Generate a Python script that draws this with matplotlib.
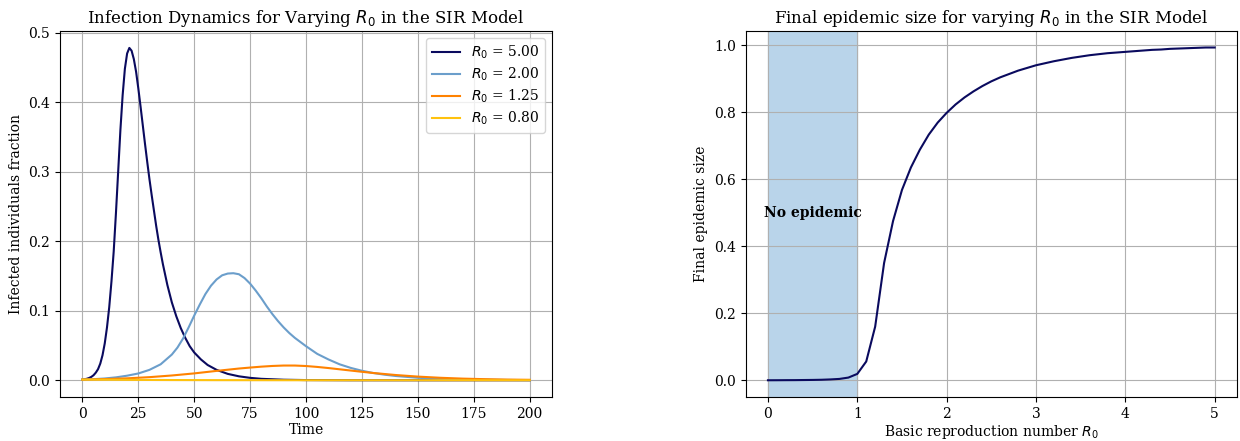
import matplotlib
matplotlib.use("Agg")
import matplotlib.pyplot as plt

plt.rcParams["font.family"] = "DejaVu Serif"

# left panel: infected fraction over time
T5 = [0, 1, 2, 3, 4, 5, 6, 7, 8, 9, 10, 11, 12, 13, 14, 15, 16, 17, 18, 19, 20,
      21, 22, 23, 24, 25, 26, 27, 28, 29, 30, 31, 32, 33, 34, 35, 36, 38, 40,
      42, 44, 46, 48, 50, 53, 56, 60, 65, 70, 75, 80, 90, 100, 120, 150, 200]
I5 = [0.001, 0.0015, 0.0022, 0.0033, 0.0049, 0.0073, 0.011, 0.016, 0.024, 0.036,
      0.053, 0.076, 0.105, 0.142, 0.185, 0.240, 0.300, 0.360, 0.410, 0.448,
      0.470, 0.478, 0.474, 0.462, 0.444, 0.420, 0.394, 0.367, 0.340, 0.314,
      0.289, 0.266, 0.244, 0.222, 0.202, 0.184, 0.167, 0.137, 0.112, 0.092,
      0.075, 0.061, 0.049, 0.040, 0.030, 0.022, 0.015, 0.0092, 0.0057, 0.0035,
      0.0021, 0.0008, 0.0003, 0.00005, 0.0, 0.0]

T2 = [0, 5, 10, 15, 20, 25, 30, 35, 40, 42.5, 45, 47.5, 50, 52.5, 55, 57.5, 60,
      62.5, 65, 67.5, 70, 72.5, 75, 77.5, 80, 82.5, 85, 87.5, 90, 92.5, 95,
      97.5, 100, 105, 110, 115, 120, 125, 130, 135, 140, 150, 160, 175, 200]
I2 = [0.001, 0.0016, 0.0026, 0.0042, 0.0066, 0.0098, 0.015, 0.023, 0.037, 0.047,
      0.060, 0.076, 0.093, 0.109, 0.124, 0.136, 0.145, 0.151, 0.1535, 0.154,
      0.1525, 0.147, 0.139, 0.129, 0.118, 0.106, 0.095, 0.085, 0.076, 0.068,
      0.061, 0.055, 0.049, 0.038, 0.030, 0.023, 0.0178, 0.0137, 0.0105, 0.0081,
      0.0062, 0.0036, 0.0021, 0.0009, 0.0002]

T125 = [0, 10, 20, 30, 40, 50, 60, 70, 75, 80, 85, 90, 95, 100, 105, 110, 115,
        120, 125, 130, 140, 150, 160, 170, 180, 190, 200]
I125 = [0.001, 0.0017, 0.0028, 0.0045, 0.0069, 0.0099, 0.0135, 0.0169, 0.0183,
        0.0196, 0.0206, 0.0212, 0.0212, 0.0205, 0.0192, 0.0176, 0.0158, 0.0140,
        0.0122, 0.0105, 0.0076, 0.0053, 0.0036, 0.0024, 0.0016, 0.0010, 0.0007]

T08 = [0, 10, 20, 40, 60, 100, 150, 200]
I08 = [0.001, 0.0008, 0.0006, 0.00035, 0.0002, 0.00007, 0.00002, 0.0]

CURVES = [
    ("5.00", T5, I5, "#0a0a5e"),
    ("2.00", T2, I2, "#6b9ecb"),
    ("1.25", T125, I125, "#ff8200"),
    ("0.80", T08, I08, "#ffc20e"),
]

# right panel: final epidemic size vs R0
R0_GRID = [0.0, 0.1, 0.2, 0.3, 0.4, 0.5, 0.6, 0.7, 0.8, 0.9, 1.0, 1.1, 1.2, 1.3,
           1.4, 1.5, 1.6, 1.7, 1.8, 1.9, 2.0, 2.1, 2.2, 2.3, 2.4, 2.5, 2.6, 2.7,
           2.8, 2.9, 3.0, 3.1, 3.2, 3.3, 3.4, 3.5, 3.6, 3.7, 3.8, 3.9, 4.0, 4.1,
           4.2, 4.3, 4.4, 4.5, 4.6, 4.7, 4.8, 4.9, 5.0]
FINAL_SIZE = [0.0, 0.0001, 0.0003, 0.0004, 0.0007, 0.001, 0.0015, 0.0025, 0.004,
              0.008, 0.019, 0.056, 0.160, 0.350, 0.475, 0.568, 0.635, 0.688,
              0.733, 0.769, 0.798, 0.823, 0.844, 0.862, 0.878, 0.892, 0.904,
              0.914, 0.924, 0.932, 0.940, 0.946, 0.952, 0.957, 0.962, 0.966,
              0.970, 0.973, 0.976, 0.978, 0.980, 0.982, 0.984, 0.986, 0.987,
              0.989, 0.990, 0.991, 0.992, 0.993, 0.993]

fig = plt.figure(figsize=(12.4, 4.41), dpi=100)
ax1 = fig.add_axes([0.0484, 0.100, 0.3968, 0.829])
ax2 = fig.add_axes([0.6013, 0.100, 0.3963, 0.830])

for label, t, i, color in CURVES:
    ax1.plot(t, i, color=color, linewidth=1.5, label=f"$R_0$ = {label}")
ax1.set_title("Infection Dynamics for Varying $R_0$ in the SIR Model", fontsize=12)
ax1.set_xlabel("Time", labelpad=2)
ax1.set_ylabel("Infected individuals fraction")
ax1.set_xticks([0, 25, 50, 75, 100, 125, 150, 175, 200])
ax1.grid(True)
ax1.legend(loc="upper right", labelspacing=0.33)

ax2.axvspan(0, 1, color="#b9d4ea", zorder=0)
ax2.plot(R0_GRID, FINAL_SIZE, color="#0a0a5e", linewidth=1.5)
ax2.text(0.5, 0.5, "No epidemic", ha="center", va="center", fontweight="bold")
ax2.set_title("Final epidemic size for varying $R_0$ in the SIR Model", fontsize=12)
ax2.set_xlabel("Basic reproduction number $R_0$", labelpad=2)
ax2.set_ylabel("Final epidemic size")
ax2.grid(True)

fig.savefig("out.png", dpi=100)
